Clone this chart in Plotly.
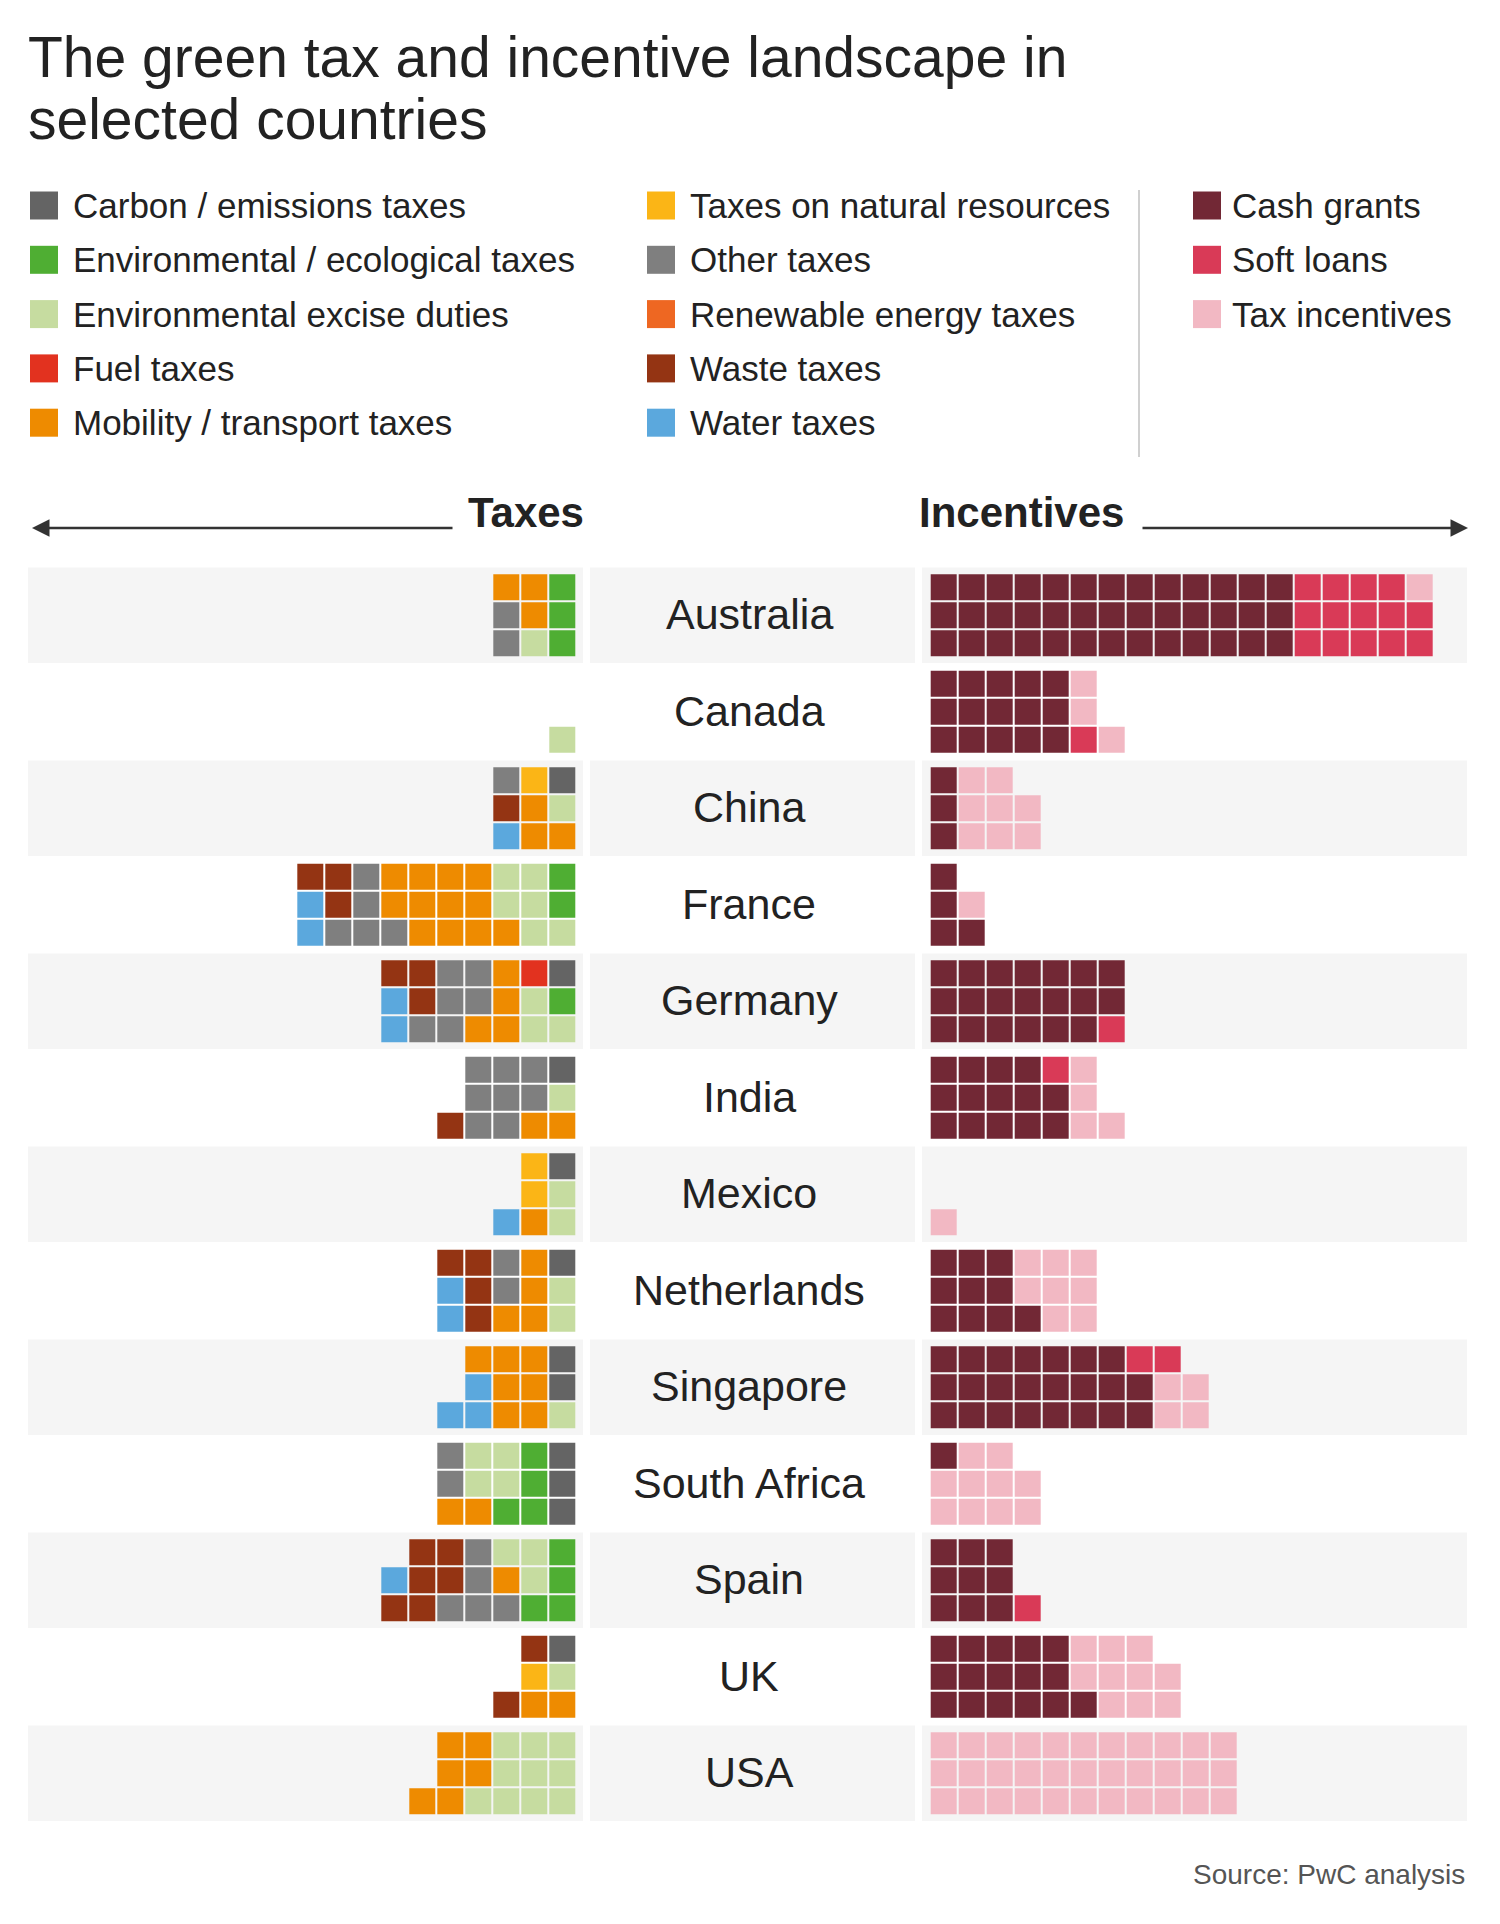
import plotly.graph_objects as go

# ---------------- data ----------------
COUNTRIES = ["Australia", "Canada", "China", "France", "Germany", "India", "Mexico",
             "Netherlands", "Singapore", "South Africa", "Spain", "UK", "USA"]

TAX_CODES = ["C", "E", "X", "F", "M", "N", "O", "R", "W", "A"]
TAX_LABELS = ["Carbon / emissions taxes", "Environmental / ecological taxes",
              "Environmental excise duties", "Fuel taxes", "Mobility / transport taxes",
              "Taxes on natural resources", "Other taxes", "Renewable energy taxes",
              "Waste taxes", "Water taxes"]
TAX_COLORS = ["#646464", "#4fae33", "#c6dca0", "#e2321f", "#ee8b00",
              "#fbb516", "#7f7f7f", "#ee6722", "#943413", "#5ba8dd"]

INC_CODES = ["G", "L", "T"]
INC_LABELS = ["Cash grants", "Soft loans", "Tax incentives"]
INC_COLORS = ["#722835", "#d93a57", "#f2b8c3"]

# waffle cells per country, one string per row (top, middle, bottom);
# taxes read outward to the left (last char is next to the centre column),
# incentives read outward to the right (first char is next to the centre column)
TAX_TOP = ["MME", "", "ONC", "WWOMMMMXXE", "WWOOMFC", ".OOOC", ".NC",
           "WWOMC", ".MMMC", "OXXEC", ".WWOXXE", ".WC", ".MMXXX"]
TAX_MID = ["OME", "", "WMX", "AWOMMMMXXE", "AWOOMXE", ".OOOX", ".NX",
           "AWOMX", ".AMMC", "OXXEC", "AWWOMXE", ".NX", ".MMXXX"]
TAX_BOT = ["OXE", "X", "AMM", "AOOOMMMMXX", "AOOMMXX", "WOOMM", "AMX",
           "AWMMX", "AAMMX", "MMEEC", "WWOOOEE", "WMM", "MMXXXX"]

INC_TOP = ["GGGGGGGGGGGGGLLLLT", "GGGGGT", "GTT", "G", "GGGGGGG", "GGGGLT", "",
           "GGGTTT", "GGGGGGGLL", "GTT", "GGG", "GGGGGTTT", "TTTTTTTTTTT"]
INC_MID = ["GGGGGGGGGGGGGLLLLL", "GGGGGT", "GTTT", "GT", "GGGGGGG", "GGGGGT", "",
           "GGGTTT", "GGGGGGGGTT", "TTTT", "GGG", "GGGGGTTTT", "TTTTTTTTTTT"]
INC_BOT = ["GGGGGGGGGGGGGLLLLL", "GGGGGLT", "GTTT", "GG", "GGGGGGL", "GGGGGTT", "T",
           "GGGGTT", "GGGGGGGGTT", "TTTT", "GGGL", "GGGGGGTTT", "TTTTTTTTTTT"]

TITLE_LINES = ["The green tax and incentive landscape in", "selected countries"]
SOURCE = "Source: PwC analysis"

# ---------------- geometry / style ----------------
W, H = 1500, 1924
CELL, PITCH = 26, 28
BAND_TOP, BAND_STEP, BAND_H = 567, 96.5, 95.5
TAX_X0 = 562.3      # centre of the tax column next to the names
INC_X0 = 943.7      # centre of the incentive column next to the names
SEGMENTS = [(28, 583), (590, 915), (922, 1467)]
NAME_X = 749
FONT = "Liberation Sans, Arial, sans-serif"
TXT = "#222222"

fig = go.Figure()

# background bands
for k in range(len(COUNTRIES)):
    if k % 2 == 0:
        y0 = BAND_TOP + BAND_STEP * k + (BAND_STEP - BAND_H) / 2
        for (x0, x1) in SEGMENTS:
            fig.add_shape(type="rect", x0=x0, x1=x1, y0=y0, y1=y0 + BAND_H,
                          xref="x", yref="y", fillcolor="#f5f5f5",
                          line=dict(width=0), layer="below")


def row_center(k, r):
    band_y0 = BAND_TOP + BAND_STEP * k
    block = 3 * PITCH - (PITCH - CELL)
    return band_y0 + (BAND_STEP - block) / 2 + CELL / 2 + r * PITCH


# collect cells per category
tax_pts = {c: ([], []) for c in TAX_CODES}
inc_pts = {c: ([], []) for c in INC_CODES}
for k in range(len(COUNTRIES)):
    for r, rows in enumerate((TAX_TOP, TAX_MID, TAX_BOT)):
        s = rows[k]
        n = len(s)
        for i, ch in enumerate(s):
            if ch in tax_pts:
                col = n - 1 - i
                tax_pts[ch][0].append(TAX_X0 - col * PITCH)
                tax_pts[ch][1].append(row_center(k, r))
    for r, rows in enumerate((INC_TOP, INC_MID, INC_BOT)):
        s = rows[k]
        for i, ch in enumerate(s):
            if ch in inc_pts:
                inc_pts[ch][0].append(INC_X0 + i * PITCH)
                inc_pts[ch][1].append(row_center(k, r))

for code, label, color in zip(TAX_CODES, TAX_LABELS, TAX_COLORS):
    xs, ys = tax_pts[code]
    fig.add_trace(go.Scatter(x=xs, y=ys, mode="markers", name=label,
                             marker=dict(symbol="square", size=CELL, color=color,
                                         line=dict(width=0)),
                             showlegend=False, hoverinfo="name"))
for code, label, color in zip(INC_CODES, INC_LABELS, INC_COLORS):
    xs, ys = inc_pts[code]
    fig.add_trace(go.Scatter(x=xs, y=ys, mode="markers", name=label,
                             marker=dict(symbol="square", size=CELL, color=color,
                                         line=dict(width=0)),
                             showlegend=False, hoverinfo="name"))

# country names
for k, name in enumerate(COUNTRIES):
    fig.add_annotation(x=NAME_X, y=BAND_TOP + BAND_STEP * k + BAND_STEP / 2 - 1,
                       xref="x", yref="y", text=name, showarrow=False,
                       font=dict(family=FONT, size=43, color=TXT),
                       xanchor="center", yanchor="middle")

# title
fig.add_annotation(x=26, y=57, xref="x", yref="y", text=TITLE_LINES[0], showarrow=False,
                   font=dict(family=FONT, size=57, color=TXT), xanchor="left", yanchor="middle")
fig.add_annotation(x=26, y=119, xref="x", yref="y", text=TITLE_LINES[1], showarrow=False,
                   font=dict(family=FONT, size=57, color=TXT), xanchor="left", yanchor="middle")

# legend
LEG_ROW0, LEG_STEP, SQ = 205.5, 54.3, 28
legend_cols = [(30, 13, TAX_LABELS[:5], TAX_COLORS[:5]),
               (647, 13, TAX_LABELS[5:], TAX_COLORS[5:]),
               (1193, 9, INC_LABELS, INC_COLORS)]
for x0, gap, labels, colors in legend_cols:
    for j, (lab, colr) in enumerate(zip(labels, colors)):
        yc = LEG_ROW0 + j * LEG_STEP
        fig.add_shape(type="rect", x0=x0, x1=x0 + SQ, y0=yc - SQ / 2, y1=yc + SQ / 2,
                      xref="x", yref="y", fillcolor=colr, line=dict(width=0))
        fig.add_annotation(x=x0 + SQ + gap, y=yc, xref="x", yref="y", text=lab,
                           showarrow=False, font=dict(family=FONT, size=35, color=TXT),
                           xanchor="left", yanchor="middle")
fig.add_shape(type="line", x0=1139, x1=1139, y0=190, y1=457, xref="x", yref="y",
              line=dict(color="#d0d0d0", width=2))

# section headers and arrows
fig.add_annotation(x=586, y=512, xref="x", yref="y", text="<b>Taxes</b>", showarrow=False,
                   font=dict(family=FONT, size=42, color=TXT), xanchor="right", yanchor="middle")
fig.add_annotation(x=917, y=512, xref="x", yref="y", text="<b>Incentives</b>", showarrow=False,
                   font=dict(family=FONT, size=42, color=TXT), xanchor="left", yanchor="middle")
fig.add_annotation(x=32, y=528, ax=454, ay=528, xref="x", yref="y", axref="x", ayref="y",
                   text="", showarrow=True, arrowhead=2, arrowsize=1.4, arrowwidth=2.5,
                   arrowcolor="#333333")
fig.add_annotation(x=1468, y=528, ax=1141, ay=528, xref="x", yref="y", axref="x", ayref="y",
                   text="", showarrow=True, arrowhead=2, arrowsize=1.4, arrowwidth=2.5,
                   arrowcolor="#333333")

# source
fig.add_annotation(x=1467, y=1874, xref="x", yref="y", text=SOURCE, showarrow=False,
                   font=dict(family=FONT, size=28, color="#555555"),
                   xanchor="right", yanchor="middle")

fig.update_layout(width=W, height=H, margin=dict(l=0, r=0, t=0, b=0),
                  paper_bgcolor="white", plot_bgcolor="white",
                  xaxis=dict(range=[0, W], visible=False, fixedrange=True),
                  yaxis=dict(range=[H, 0], visible=False, fixedrange=True),
                  showlegend=False)

fig.write_html("out.html", config={"displayModeBar": False},
               post_script="document.body.style.margin='0';")
